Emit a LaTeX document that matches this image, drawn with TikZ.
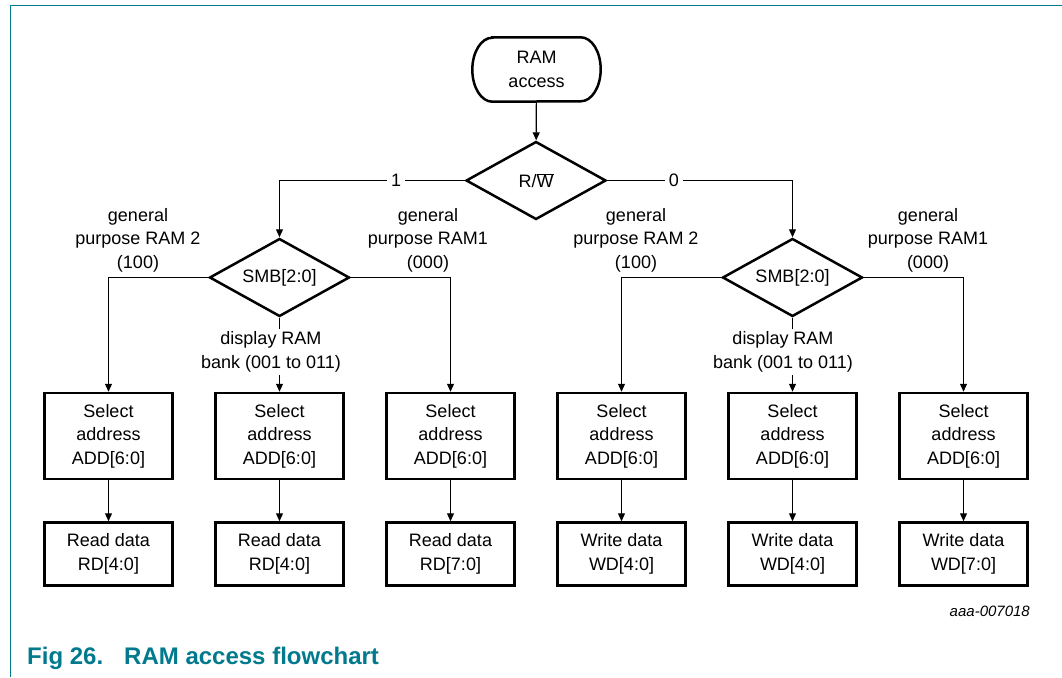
\documentclass[tikz,border=0pt]{standalone}
\usepackage{fontspec}
\setmainfont{Liberation Sans}
\usetikzlibrary{arrows.meta,shapes.geometric}
\definecolor{nxpteal}{RGB}{0,122,140}
\begin{document}
\begin{tikzpicture}[x=1pt,y=-1pt,
  txt/.style={font=\fontsize{18}{23.5}\selectfont, inner sep=0pt, align=center},
  boxline/.style={draw, line width=2.5pt},
  selbox/.style={txt, boxline, minimum width=128pt, minimum height=86pt},
  databox/.style={txt, boxline, minimum width=128pt, minimum height=63pt},
  decision/.style={txt, boxline, diamond, aspect=1.8, minimum width=140pt, minimum height=78pt},
  termnode/.style={txt, minimum width=128pt, minimum height=64pt},
  conn/.style={line width=1.2pt, -{Triangle[length=8pt,width=7pt]}},
  lbl/.style={txt, fill=white},
  gp/.style={txt}
]
\useasboundingbox (0,0) rectangle (1062,677);
% frame
\draw[nxpteal, line width=1.5pt] (10.7,677) -- (10.7,5.3) -- (1062,5.3);

% nodes
\node[termnode] (start) at (536.5,69.5) {RAM\\access};
\draw[line width=2.5pt] ([xshift=20pt]start.north west) -- ([xshift=-20pt]start.north east)
  arc[start angle=-90,end angle=90,x radius=20,y radius=32]
  -- ([xshift=20pt]start.south west)
  arc[start angle=90,end angle=270,x radius=20,y radius=32] -- cycle;

\node[decision] (rw) at (536,180.5) {R/$\overline{\hbox{W}}$};
\node[decision] (smbL) at (279.5,277.5) {SMB[2:0]};
\node[decision] (smbR) at (792.5,277.5) {SMB[2:0]};

\node[selbox] (s1) at (108.5,436) {Select\\address\\ADD[6:0]};
\node[selbox] (s2) at (279.5,436) {Select\\address\\ADD[6:0]};
\node[selbox] (s3) at (450.5,436) {Select\\address\\ADD[6:0]};
\node[selbox] (s4) at (621.5,436) {Select\\address\\ADD[6:0]};
\node[selbox] (s5) at (792.5,436) {Select\\address\\ADD[6:0]};
\node[selbox] (s6) at (963.5,436) {Select\\address\\ADD[6:0]};

\node[databox] (d1) at (108.5,554) {Read data\\RD[4:0]};
\node[databox] (d2) at (279.5,554) {Read data\\RD[4:0]};
\node[databox] (d3) at (450.5,554) {Read data\\RD[7:0]};
\node[databox] (d4) at (621.5,554) {Write data\\WD[4:0]};
\node[databox] (d5) at (792.5,554) {Write data\\WD[4:0]};
\node[databox] (d6) at (963.5,554) {Write data\\WD[7:0]};

% connectors
\draw[conn] (start) -- (rw);
\draw[conn] (rw.west) -- node[lbl, pos=0.37, inner xsep=4pt, inner ysep=2pt] (one) {1} (smbL.north |- rw.west) -- (smbL.north);
\draw[conn] (rw.east) -- node[lbl, pos=0.36, inner xsep=4pt, inner ysep=2pt] (zero) {0} (smbR.north |- rw.east) -- (smbR.north);

\draw[conn] (smbL.west) -| (s1.north);
\draw[conn] (smbL.east) -| (s3.north);
\draw[conn] (smbL.south) -- (s2.north);
\draw[conn] (smbR.west) -| (s4.north);
\draw[conn] (smbR.east) -| (s6.north);
\draw[conn] (smbR.south) -- (s5.north);

\draw[conn] (s1) -- (d1);
\draw[conn] (s2) -- (d2);
\draw[conn] (s3) -- (d3);
\draw[conn] (s4) -- (d4);
\draw[conn] (s5) -- (d5);
\draw[conn] (s6) -- (d6);

% labels
\node[lbl, inner ysep=3pt, inner xsep=2pt] (dispL) at (271,352) {display RAM\\bank (001 to 011)};
\node[lbl, inner ysep=3pt, inner xsep=2pt] (dispR) at (783,352) {display RAM\\bank (001 to 011)};
\node[gp] (gpL2) at (138,240) {general\\purpose RAM 2\\(100)};
\node[gp] (gpL1) at (428,240) {general\\purpose RAM1\\(000)};
\node[gp] (gpR2) at (636,240) {general\\purpose RAM 2\\(100)};
\node[gp] (gpR1) at (928,240) {general\\purpose RAM1\\(000)};

\node[anchor=base east, inner sep=0pt, font=\fontsize{15}{18}\itshape\selectfont] (ref) at (1030,616) {aaa-007018};
\node[anchor=base west, inner sep=0pt, text=nxpteal, font=\fontsize{24}{28}\bfseries\selectfont] (cap) at (27,664) {Fig 26.\hspace{21pt}RAM access flowchart};
\end{tikzpicture}
\end{document}
